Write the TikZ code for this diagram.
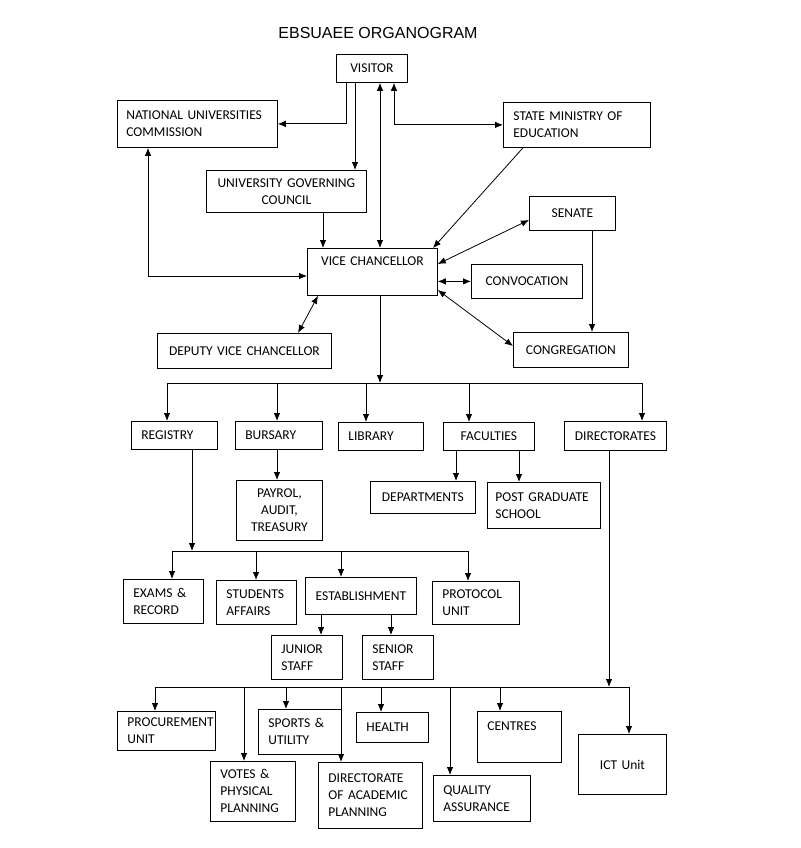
\documentclass[tikz,border=0pt]{standalone}
\usepackage{fontspec}
\setmainfont{Carlito}
\newfontfamily\titlefont{Liberation Sans}
\usetikzlibrary{arrows.meta}

\begin{document}
\begin{tikzpicture}[x=1pt,y=-1pt,
  box/.style={draw, line width=0.8pt, anchor=north west, inner xsep=10pt, inner ysep=0pt,
    font=\fontsize{13.5}{17}\selectfont},
  lbox/.style={box, align=left},
  cbox/.style={box, align=center},
  arr/.style={line width=0.8pt, -{Latex[length=8pt,width=6.5pt]}},
  darr/.style={line width=0.8pt, {Latex[length=8pt,width=6.5pt]}-{Latex[length=8pt,width=6.5pt]}},
  bus/.style={line width=0.8pt}]
  \useasboundingbox (0,0) rectangle (800,848);

  \node[font=\titlefont\fontsize{16}{19}\selectfont] (title) at (378,33) {EBSUAEE ORGANOGRAM};

  % top of the chart
  \node[cbox, text width=51pt, minimum height=28pt] (visitor) at (336,54) {VISITOR};
  \node[lbox, text width=142pt, minimum height=47pt, inner xsep=9pt] (nuc) at (117,100) {NATIONAL UNIVERSITIES\\COMMISSION};
  \node[lbox, text width=127pt, minimum height=45pt] (smoe) at (503,102) {STATE MINISTRY OF\\EDUCATION};
  \node[cbox, text width=142pt, minimum height=42pt, inner xsep=9pt] (ugc) at (206,170) {UNIVERSITY GOVERNING\\COUNCIL};
  \node[cbox, text width=66pt, minimum height=34pt] (senate) at (529,196) {SENATE};
  \node[cbox, text width=110pt, minimum height=47pt] (vc) at (307,248) {VICE CHANCELLOR\\ \strut};
  \node[cbox, text width=91pt, minimum height=34pt] (convocation) at (471,264) {CONVOCATION};
  \node[cbox, text width=154pt, minimum height=35pt] (dvc) at (157,333) {DEPUTY VICE CHANCELLOR};
  \node[cbox, text width=97pt, minimum height=35pt, inner xsep=9pt] (congregation) at (513,332) {CONGREGATION};

  % units under the vice chancellor
  \node[lbox, text width=66pt, minimum height=28pt] (registry) at (131,421) {REGISTRY};
  \node[lbox, text width=67pt, minimum height=28pt] (bursary) at (235,421) {BURSARY};
  \node[lbox, text width=65pt, minimum height=28pt] (library) at (338,422) {LIBRARY};
  \node[cbox, text width=71pt, minimum height=28pt] (faculties) at (443,422) {FACULTIES};
  \node[cbox, text width=86pt, minimum height=29pt, inner xsep=8pt] (directorates) at (564,421) {DIRECTORATES};
  \node[cbox, text width=66pt, minimum height=60pt] (payrol) at (236,480) {PAYROL,\\AUDIT,\\TREASURY};
  \node[cbox, text width=85pt, minimum height=32pt] (departments) at (370,481) {DEPARTMENTS};
  \node[lbox, text width=97pt, minimum height=46pt, inner xsep=8pt] (pgs) at (487,482) {POST GRADUATE\\SCHOOL};

  % registry
  \node[lbox, text width=60pt, minimum height=44pt] (exams) at (123,579) {EXAMS \&\\RECORD};
  \node[lbox, text width=60pt, minimum height=44pt] (students) at (216,580) {STUDENTS\\AFFAIRS};
  \node[cbox, text width=95pt, minimum height=37pt, inner xsep=8pt] (establishment) at (305,577) {ESTABLISHMENT};
  \node[lbox, text width=67pt, minimum height=43pt] (protocol) at (432,581) {PROTOCOL\\UNIT};
  \node[lbox, text width=51pt, minimum height=44pt] (junior) at (271,635) {JUNIOR\\STAFF};
  \node[lbox, text width=51pt, minimum height=44pt] (senior) at (362,635) {SENIOR\\STAFF};

  % directorates
  \node[lbox, text width=78pt, minimum height=39pt] (procurement) at (117,711) {PROCUREMENT\\UNIT};
  \node[lbox, text width=63pt, minimum height=45pt] (sports) at (258,709) {SPORTS \&\\UTILITY};
  \node[lbox, text width=52pt, minimum height=30pt] (health) at (356,712) {HEALTH};
  \node[lbox, text width=64pt, minimum height=51pt] (centres) at (477,711) {CENTRES\\ \strut};
  \node[cbox, text width=68pt, minimum height=60pt] (ict) at (578,734) {ICT Unit};
  \node[lbox, text width=65pt, minimum height=60pt] (votes) at (210,761) {VOTES \&\\PHYSICAL\\PLANNING};
  \node[lbox, text width=84pt, minimum height=66pt] (dap) at (318,762) {DIRECTORATE\\OF ACADEMIC\\PLANNING};
  \node[lbox, text width=77pt, minimum height=46pt] (qa) at (433,775) {QUALITY\\ASSURANCE};

  % links at the top
  \draw[arr] (346,0 |- visitor.south) |- (nuc.east);
  \draw[arr] (355,0 |- visitor.south) -- (355,0 |- ugc.north);
  \draw[darr] (380,0 |- vc.north) -- (380,0 |- visitor.south);
  \draw[darr] (394,0 |- visitor.south) |- (smoe.west);
  \draw[arr] (523,0 |- smoe.south) -- (433,0 |- vc.north);
  \draw[arr] (323,0 |- ugc.south) -- (323,0 |- vc.north);
  \draw[darr] (148,0 |- nuc.south) |- (vc.west |- 0,276);
  \draw[darr] (senate.west |- 0,220) -- (vc.east |- 0,264);
  \draw[darr] (vc.east |- convocation.west) -- (convocation.west);
  \draw[darr] (vc.east |- 0,290) -- (congregation.west |- 0,346);
  \draw[darr] (318,0 |- vc.south) -- (298,0 |- dvc.north);
  \draw[arr] (592,0 |- senate.south) -- (592,0 |- congregation.north);

  % vice chancellor to the units
  \coordinate (bus1) at (380,383);
  \draw[arr] (380,0 |- vc.south) -- (bus1);
  \draw[bus] (167,0 |- bus1) -- (642,0 |- bus1);
  \foreach \x/\n in {167/registry, 277/bursary, 366/library, 469/faculties, 642/directorates}
    \draw[arr] (\x,0 |- bus1) -- (\x,0 |- \n.north);
  \draw[arr] (277,0 |- bursary.south) -- (277,0 |- payrol.north);
  \draw[arr] (456,0 |- faculties.south) -- (456,0 |- departments.north);
  \draw[arr] (519,0 |- faculties.south) -- (519,0 |- pgs.north);

  % registry branch
  \coordinate (bus2) at (192,551);
  \draw[arr] (192,0 |- registry.south) -- (bus2);
  \draw[bus] (172,0 |- bus2) -- (469,0 |- bus2);
  \foreach \x/\n in {172/exams, 256/students, 341/establishment, 468/protocol}
    \draw[arr] (\x,0 |- bus2) -- (\x,0 |- \n.north);
  \draw[arr] (321,0 |- establishment.south) -- (321,0 |- junior.north);
  \draw[arr] (391,0 |- establishment.south) -- (391,0 |- senior.north);

  % directorates branch
  \coordinate (bus3) at (609,687);
  \draw[arr] (609,0 |- directorates.south) -- (bus3);
  \draw[bus] (155,0 |- bus3) -- (629,0 |- bus3);
  \foreach \x/\n in {155/procurement, 244/votes, 286/sports, 341/dap, 381/health, 450/qa, 500/centres, 629/ict}
    \draw[arr] (\x,0 |- bus3) -- (\x,0 |- \n.north);
\end{tikzpicture}
\end{document}
